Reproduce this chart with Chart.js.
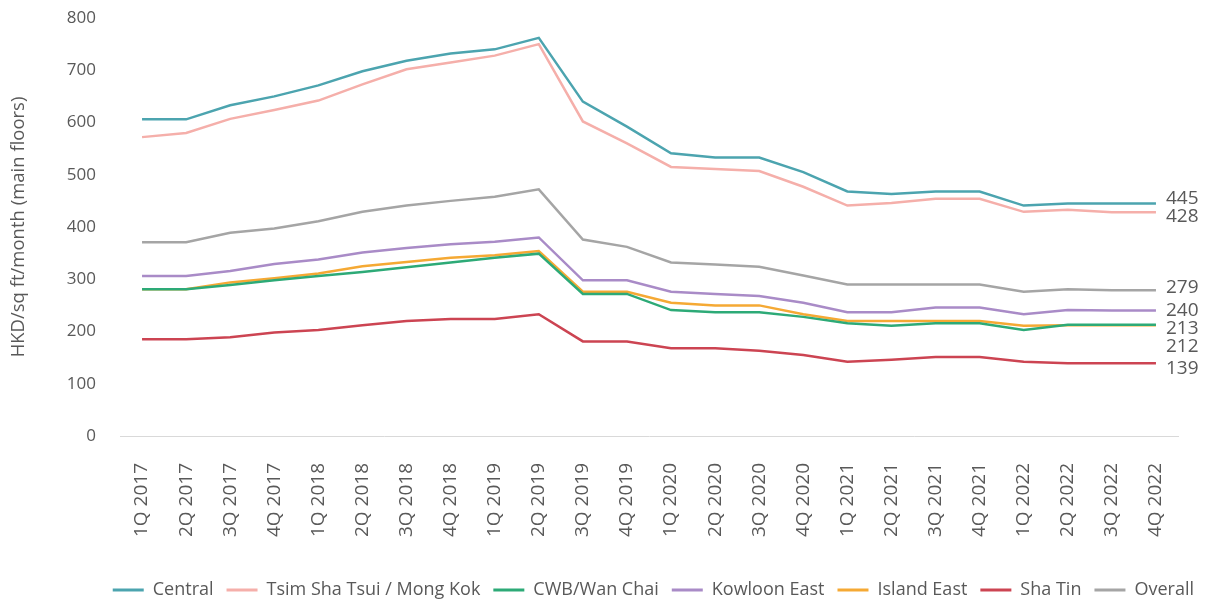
<!DOCTYPE html>
<html>
<head>
<meta charset="utf-8">
<script src="https://cdn.jsdelivr.net/npm/chart.js@4/dist/chart.umd.min.js"></script>
<style>
    html, body { margin: 0; padding: 0; background: #ffffff; }
    #wrap { width: 1207px; height: 599px; }
</style>
</head>
<body>
<div id="wrap"><canvas id="chart"></canvas></div>
<script>
const quarters = ['1Q 2017', '2Q 2017', '3Q 2017', '4Q 2017', '1Q 2018', '2Q 2018', '3Q 2018', '4Q 2018',
    '1Q 2019', '2Q 2019', '3Q 2019', '4Q 2019', '1Q 2020', '2Q 2020', '3Q 2020', '4Q 2020',
    '1Q 2021', '2Q 2021', '3Q 2021', '4Q 2021', '1Q 2022', '2Q 2022', '3Q 2022', '4Q 2022'];

const central = [606, 606, 633, 650, 671, 698, 718, 732, 740, 762, 640, 592, 541, 533, 533, 505, 468, 463, 468, 468, 441, 445, 445, 445];
const tstMongKok = [572, 580, 607, 624, 642, 673, 702, 715, 728, 750, 602, 560, 515, 511, 507, 477, 441, 446, 454, 454, 429, 433, 428, 428];
const wanChai = [281, 281, 289, 298, 306, 314, 323, 332, 341, 349, 272, 272, 241, 237, 237, 228, 216, 211, 216, 216, 203, 213, 213, 213];
const kowloonEast = [306, 306, 316, 329, 338, 351, 360, 367, 372, 380, 298, 298, 276, 272, 268, 255, 237, 237, 246, 246, 233, 241, 240, 240];
const islandEast = [281, 281, 294, 302, 311, 325, 333, 341, 346, 354, 276, 276, 255, 250, 250, 233, 220, 220, 220, 220, 211, 212, 212, 212];
const shaTin = [185, 185, 189, 198, 203, 212, 220, 224, 224, 233, 181, 181, 168, 168, 163, 155, 142, 146, 151, 151, 142, 139, 139, 139];
const overall = [371, 371, 389, 397, 411, 429, 441, 450, 458, 472, 376, 362, 332, 328, 324, 307, 290, 290, 290, 290, 276, 281, 279, 279];

const yTicks = [0, 100, 200, 300, 400, 500, 600, 700, 800];

const textColor = '#595959';
const fontFamily = "'Open Sans', sans-serif";

// labelDy: vertical nudge of the end label so neighbours don't overlap
function series(label, data, color, labelDy) {
    return {
        label: label,
        data: data,
        borderColor: color,
        backgroundColor: color,
        borderWidth: 2.5,
        pointRadius: 0,
        pointHoverRadius: 0,
        tension: 0,
        fill: false,
        labelDy: labelDy
    };
}

const endLabels = {
    id: 'endLabels',
    afterDatasetsDraw(chart) {
        const { ctx } = chart;
        ctx.save();
        ctx.font = "19px " + fontFamily;
        ctx.fillStyle = textColor;
        ctx.textAlign = 'left';
        ctx.textBaseline = 'middle';
        chart.data.datasets.forEach((ds, i) => {
            const meta = chart.getDatasetMeta(i);
            const pt = meta.data[meta.data.length - 1];
            if (!pt) return;
            ctx.fillText(String(ds.data[ds.data.length - 1]), pt.x + 10, pt.y + (ds.labelDy || 0));
        });
        ctx.restore();
    }
};

function noVertPadding(scale) {
    scale.paddingTop = 0;
    scale.paddingBottom = 0;
}

new Chart(document.getElementById('chart'), {
    type: 'line',
    data: {
        labels: quarters,
        datasets: [
            series('Central', central, '#4CA4AF', -5),
            series('Tsim Sha Tsui / Mong Kok', tstMongKok, '#F5AFAA', 4),
            series('CWB/Wan Chai', wanChai, '#2DAA77', 4),
            series('Kowloon East', kowloonEast, '#A98BC7', 0),
            series('Island East', islandEast, '#F5A934', 21),
            series('Sha Tin', shaTin, '#CC4452', 5),
            series('Overall', overall, '#A5A5A5', -3)
        ]
    },
    options: {
        responsive: true,
        maintainAspectRatio: false,
        animation: false,
        layout: {
            padding: { top: 18, right: 0, bottom: -10, left: 0 }
        },
        plugins: {
            tooltip: { enabled: false },
            legend: {
                position: 'bottom',
                align: 'end',
                labels: {
                    color: textColor,
                    font: { family: fontFamily, size: 18 },
                    boxWidth: 31,
                    boxHeight: 3,
                    padding: 13,
                    generateLabels(chart) {
                        return chart.data.datasets.map((ds, i) => ({
                            text: ds.label,
                            fillStyle: ds.borderColor,
                            strokeStyle: ds.borderColor,
                            lineWidth: 0,
                            fontColor: textColor,
                            hidden: false,
                            datasetIndex: i
                        }));
                    }
                }
            }
        },
        scales: {
            x: {
                offset: true,
                grid: { display: false },
                border: { display: true, color: '#D9D9D9', width: 1 },
                ticks: {
                    color: textColor,
                    font: { family: fontFamily, size: 19 },
                    minRotation: 90,
                    maxRotation: 90,
                    padding: 19,
                    autoSkip: false
                },
                afterFit(scale) { scale.height = 132; }
            },
            y: {
                min: 0,
                max: 800,
                grid: { display: false },
                border: { display: false },
                afterBuildTicks(scale) { scale.ticks = yTicks.map(v => ({ value: v })); },
                ticks: {
                    color: textColor,
                    font: { family: fontFamily, size: 17 },
                    padding: 16
                },
                title: {
                    display: true,
                    text: 'HKD/sq ft/month (main floors)',
                    color: textColor,
                    font: { family: fontFamily, size: 18.5 },
                    padding: { top: 8, bottom: 0 }
                },
                afterFit(scale) {
                    scale.width = 120;
                    noVertPadding(scale);
                }
            },
            spacer: {
                position: 'right',
                display: true,
                grid: { display: false },
                border: { display: false },
                ticks: { display: false },
                afterFit(scale) {
                    scale.width = 29;
                    noVertPadding(scale);
                }
            }
        }
    },
    plugins: [endLabels]
});
</script>
</body>
</html>
